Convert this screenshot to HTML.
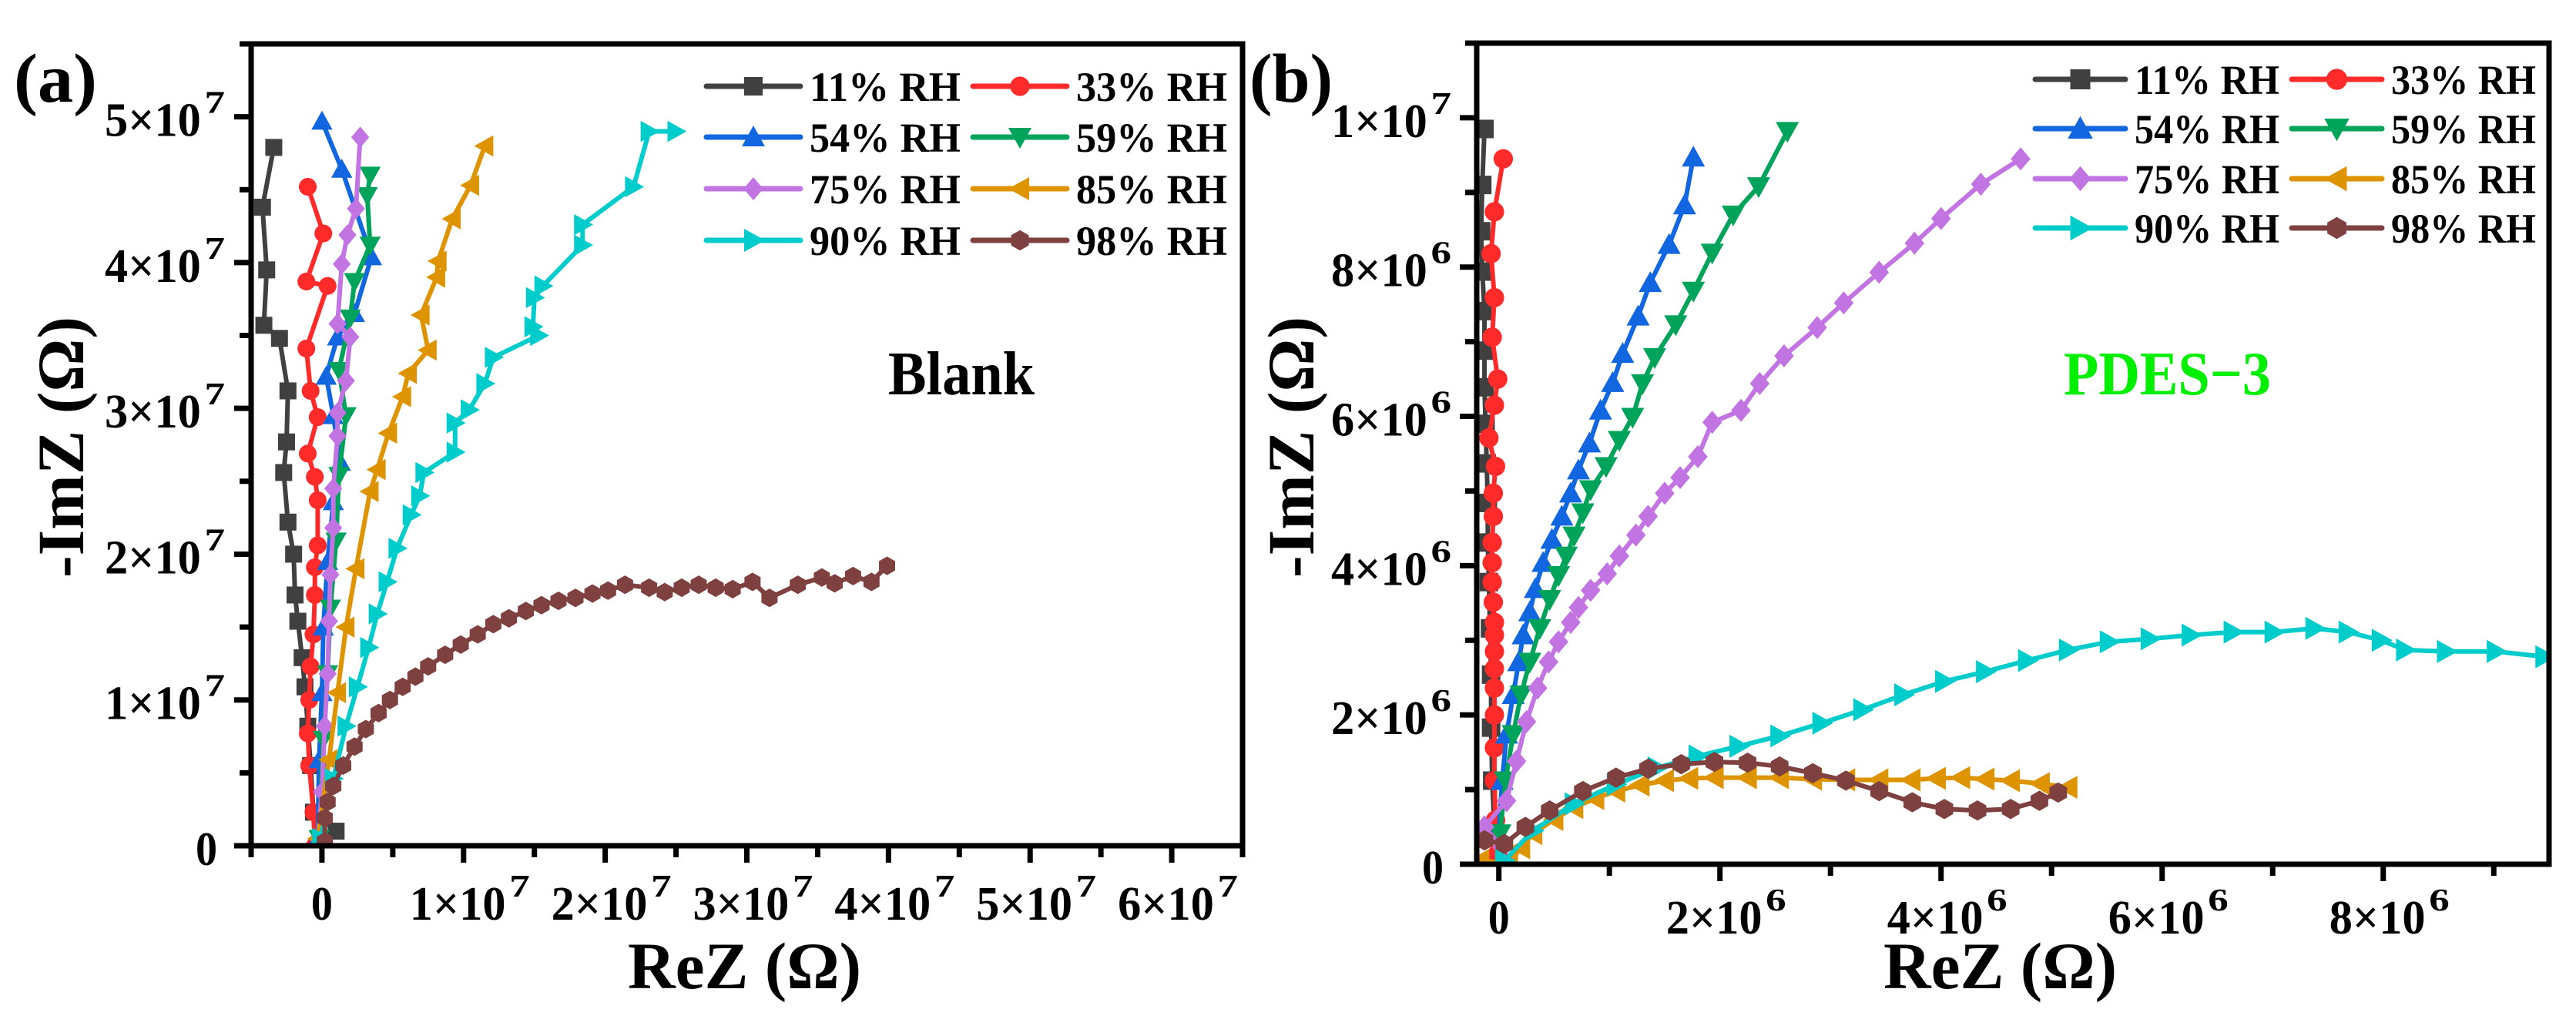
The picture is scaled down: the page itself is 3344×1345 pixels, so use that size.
<!DOCTYPE html>
<html><head><meta charset="utf-8"><style>
html,body{margin:0;padding:0;background:#fff}
svg{display:block}
</style></head><body>
<svg id="fig" width="3344" height="1345" viewBox="0 0 3344 1345" xmlns="http://www.w3.org/2000/svg" font-family="Liberation Serif, Times New Roman, serif" font-weight="bold"></svg>
<script>
// ---------- Panel (a) data, units of 1e7 Ohm ----------
const a_rh11 = [[-0.34,4.79],[-0.42,4.38],[-0.39,3.95],[-0.41,3.57],[-0.30,3.48],[-0.24,3.12],[-0.25,2.77],[-0.27,2.56],[-0.24,2.22],[-0.20,2.0],[-0.19,1.72],[-0.17,1.54],[-0.14,1.29],[-0.12,1.09],[-0.10,0.82],[-0.08,0.55],[-0.06,0.23],[0.10,0.10]];
const a_rh33 = [[-0.10,4.52],[0.01,4.20],[-0.11,3.87],[0.04,3.84],[-0.11,3.41],[-0.08,3.12],[-0.03,2.94],[-0.10,2.69],[-0.05,2.53],[-0.03,2.37],[-0.03,2.06],[-0.05,1.91],[-0.05,1.72],[-0.06,1.45],[-0.08,1.23],[-0.09,1.0],[-0.10,0.77],[-0.09,0.55],[-0.06,0.23],[-0.05,0]];
const a_rh54 = [[0,4.97],[0.14,4.64],[0.35,4.04],[0.23,3.65],[0.11,3.49],[0.03,3.22],[0.08,2.95],[0.13,2.63],[0.08,2.36],[0.04,1.95],[0.01,1.50],[0,1.05],[-0.02,0.59],[-0.03,0.05]];
const a_rh59 = [[0.34,4.60],[0.32,4.46],[0.34,4.12],[0.23,3.87],[0.20,3.62],[0.12,3.26],[0.17,2.95],[0.12,2.54],[0.10,2.09],[0.06,1.63],[0.04,1.18],[0.01,0.73],[-0.02,0.05]];
const a_rh75 = [[0.27,4.86],[0.24,4.37],[0.18,4.19],[0.14,3.99],[0.11,3.58],[0.20,3.49],[0.17,3.19],[0.11,2.97],[0.11,2.81],[0.08,2.45],[0.08,2.18],[0.06,1.86],[0.05,1.54],[0.04,1.18],[0.02,0.82],[0,0.37],[-0.03,0.05]];
const a_rh85 = [[1.15,4.80],[1.05,4.53],[0.92,4.30],[0.82,4.01],[0.81,3.90],[0.70,3.64],[0.75,3.40],[0.61,3.24],[0.57,3.08],[0.47,2.83],[0.39,2.58],[0.34,2.43],[0.24,1.90],[0.17,1.50],[0.11,1.05],[0.05,0.59],[-0.03,0.05]];
const a_rh90 = [[2.50,4.90],[2.31,4.90],[2.20,4.52],[1.84,4.26],[1.84,4.12],[1.56,3.84],[1.50,3.76],[1.49,3.56],[1.53,3.50],[1.21,3.35],[1.15,3.17],[1.04,2.99],[0.94,2.90],[0.94,2.70],[0.72,2.56],[0.69,2.40],[0.63,2.27],[0.53,2.04],[0.46,1.81],[0.39,1.59],[0.33,1.36],[0.25,1.09],[0.17,0.82],[0.08,0.46],[-0.01,0.05]];
const a_rh98 = [[3.99,1.92],[3.88,1.81],[3.75,1.85],[3.62,1.80],[3.53,1.84],[3.36,1.79],[3.16,1.70],[3.04,1.81],[2.90,1.76],[2.78,1.77],[2.66,1.79],[2.54,1.77],[2.42,1.74],[2.31,1.77],[2.14,1.79],[2.02,1.75],[1.91,1.73],[1.79,1.70],[1.67,1.68],[1.55,1.65],[1.44,1.61],[1.32,1.56],[1.21,1.52],[1.10,1.45],[0.98,1.38],[0.87,1.31],[0.75,1.23],[0.66,1.16],[0.57,1.09],[0.48,1.00],[0.40,0.91],[0.31,0.80],[0.23,0.68],[0.15,0.55],[0.08,0.41],[0.04,0.30],[0.02,0.19],[0.02,0.03]];
// ---------- Panel (b) data, units of 1e6 Ohm ----------
const b_rh11 = [[-0.13,9.85],[-0.15,9.10],[-0.16,8.48],[-0.15,7.94],[-0.13,7.41],[-0.13,6.88],[-0.13,6.39],[-0.12,5.90],[-0.11,5.37],[-0.10,4.84],[-0.10,4.31],[-0.09,3.78],[-0.08,3.16],[-0.07,2.54],[-0.07,1.83],[-0.06,1.12],[-0.04,0.5]];
const b_rh33 = [[0.04,9.45],[-0.04,8.74],[-0.07,8.18],[-0.04,7.59],[-0.06,7.06],[-0.01,6.50],[-0.04,6.15],[-0.09,5.71],[-0.03,5.33],[-0.05,4.97],[-0.05,4.66],[-0.06,4.31],[-0.06,4.04],[-0.06,3.78],[-0.05,3.51],[-0.04,3.24],[-0.04,3.07],[-0.04,2.85],[-0.04,2.62],[-0.04,2.36],[-0.04,2.0],[-0.04,1.56],[-0.04,1.12],[-0.03,0.59],[-0.01,0.14]];
const b_rh54 = [[1.76,9.47],[1.68,8.83],[1.54,8.30],[1.37,7.79],[1.26,7.34],[1.12,6.84],[1.03,6.45],[0.92,6.08],[0.82,5.64],[0.72,5.28],[0.65,4.97],[0.57,4.66],[0.48,4.35],[0.40,4.04],[0.33,3.69],[0.28,3.38],[0.22,3.07],[0.18,2.71],[0.13,2.27],[0.07,1.74],[0.03,1.12],[0,0.41]];
const b_rh59 = [[2.61,9.82],[2.35,9.08],[2.12,8.70],[1.93,8.19],[1.76,7.68],[1.60,7.23],[1.41,6.79],[1.30,6.44],[1.21,5.99],[1.09,5.68],[0.97,5.33],[0.83,5.02],[0.76,4.71],[0.68,4.40],[0.61,4.13],[0.54,3.87],[0.46,3.55],[0.37,3.16],[0.28,2.71],[0.20,2.27],[0.13,1.74],[0.06,1.12],[0.01,0.41]];
const b_rh75 = [[4.72,9.45],[4.36,9.11],[4.00,8.65],[3.76,8.32],[3.44,7.93],[3.12,7.52],[2.88,7.19],[2.58,6.81],[2.36,6.44],[2.19,6.08],[1.93,5.92],[1.80,5.46],[1.64,5.18],[1.50,4.97],[1.35,4.66],[1.24,4.41],[1.09,4.13],[0.98,3.89],[0.83,3.67],[0.72,3.44],[0.65,3.24],[0.54,2.98],[0.45,2.71],[0.35,2.36],[0.25,1.91],[0.16,1.38],[0.07,0.85],[-0.13,0.5],[0.03,0.23]];
const b_rh85 = [[-0.17,0.05],[0.09,0.01],[0.20,0.22],[0.31,0.41],[0.50,0.60],[0.68,0.76],[0.87,0.88],[1.06,0.98],[1.28,1.06],[1.50,1.12],[1.72,1.15],[1.95,1.16],[2.25,1.16],[2.54,1.16],[2.84,1.14],[3.14,1.13],[3.44,1.13],[3.73,1.13],[3.96,1.15],[4.18,1.16],[4.40,1.14],[4.63,1.12],[4.90,1.08],[5.15,1.03]];
const b_rh90 = [[9.46,2.78],[9.02,2.85],[8.57,2.85],[8.20,2.87],[7.98,3.0],[7.68,3.11],[7.38,3.16],[7.01,3.11],[6.64,3.11],[6.26,3.07],[5.89,3.02],[5.52,2.98],[5.15,2.87],[4.78,2.73],[4.40,2.58],[4.03,2.45],[3.66,2.27],[3.29,2.07],[2.92,1.89],[2.54,1.72],[2.17,1.58],[1.80,1.45],[1.43,1.29],[1.06,1.07],[0.68,0.81],[0.31,0.45],[0.05,0.05]];
const b_rh98 = [[5.06,0.96],[4.89,0.85],[4.63,0.74],[4.33,0.72],[4.03,0.74],[3.74,0.83],[3.44,0.98],[3.14,1.12],[2.84,1.22],[2.54,1.31],[2.25,1.36],[1.95,1.37],[1.65,1.34],[1.35,1.28],[1.06,1.16],[0.76,0.98],[0.46,0.72],[0.24,0.50],[0.05,0.27],[-0.13,0.32]];
// ---------- labels ----------
const seriesLabels = ["11% RH","33% RH","54% RH","59% RH","75% RH","85% RH","90% RH","98% RH"];
const aXTicks = [0,1,2,3,4,5,6];
const aYTicks = [0,1,2,3,4,5];
const bXTicks = [0,2,4,6,8];
const bYTicks = [0,2,4,6,8,10];

const colors = ["#404040","#ff2a2a","#1266e0","#00a35a","#c274e2","#dd9400","#00cccc","#7f4040"];
const markers = ["square","circle","up","down","diamond","left","right","hex"];
const FONT = "Liberation Serif, Times New Roman, serif";
const NS = "http://www.w3.org/2000/svg";
const svg = document.getElementById("fig");
function el(tag, attrs, parent){const e=document.createElementNS(NS,tag);for(const k in attrs)e.setAttribute(k,attrs[k]);(parent||svg).appendChild(e);return e;}
function txt(attrs,parent,color,len){
  attrs["font-family"]=FONT;attrs["font-weight"]="bold";
  if(len){attrs["textLength"]=len;attrs["lengthAdjust"]="spacingAndGlyphs";}
  const t=el("text",attrs,parent);
  t.style.fill=color||"#000";
  return t;
}

function markerShape(type,x,y,s,color,parent){
  let e;
  if(type==="square") e=el("rect",{x:x-s,y:y-s,width:2*s,height:2*s,fill:color},parent);
  else if(type==="circle") e=el("circle",{cx:x,cy:y,r:s*1.05,fill:color},parent);
  else {
    let pts;
    const t=s*1.25;
    if(type==="up") pts=[[x,y-t],[x+t,y+t*0.8],[x-t,y+t*0.8]];
    else if(type==="down") pts=[[x,y+t],[x+t,y-t*0.8],[x-t,y-t*0.8]];
    else if(type==="left") pts=[[x-t,y],[x+t*0.8,y-t],[x+t*0.8,y+t]];
    else if(type==="right") pts=[[x+t,y],[x-t*0.8,y-t],[x-t*0.8,y+t]];
    else if(type==="diamond") pts=[[x,y-t],[x+t*0.85,y],[x,y+t],[x-t*0.85,y]];
    else {pts=[];for(let i=0;i<6;i++){const a=Math.PI/3*i+Math.PI/6;pts.push([x+s*1.1*Math.cos(a),y+s*1.1*Math.sin(a)]);}}
    e=el("polygon",{points:pts.map(p=>p.join(",")).join(" "),fill:color},parent);
  }
  return e;
}

function sciLabel(parent,x,y,mant,exp,anchor,size,len){
  if(exp===null){const t=txt({x:x,y:y,"text-anchor":anchor,"font-size":size},parent,"#000",28);t.textContent=mant;return t;}
  // main part and exponent as separate text pieces, each width-controlled
  const g=el("g",{},parent);
  const mainW=len*0.8, expW=len*0.17;
  let left = anchor==="end" ? x-len : anchor==="middle" ? x-len/2 : x;
  const a=txt({x:left,y:y,"font-size":size},g,"#000",mainW);a.textContent=mant+"\u00d710";
  const b=txt({x:left+len-expW,y:y-30,"font-size":size*0.66},g,"#000",expW);b.textContent=exp;
  return g;
}

function panel(cfg){
  const g=el("g",{});
  
  
  const sx=v=>cfg.L+(v-cfg.xmin)/(cfg.xmax-cfg.xmin)*(cfg.R-cfg.L);
  const sy=v=>cfg.B-(v-cfg.ymin)/(cfg.ymax-cfg.ymin)*(cfg.B-cfg.T);
  const cid=cfg.name+"-clip";
  const defs=el("defs",{},g);const cp=el("clipPath",{id:cid},defs);
  el("rect",{x:cfg.L,y:cfg.T,width:cfg.R-cfg.L,height:cfg.B-cfg.T},cp);
  const sg=el("g",{"clip-path":"url(#"+cid+")"},g);
  cfg.series.forEach((data,i)=>{
    const s=el("g",{},sg);
    
    
    const pl=el("polyline",{points:data.map(p=>sx(p[0])+","+sy(p[1])).join(" "),fill:"none",stroke:colors[i],"stroke-width":6,"stroke-linejoin":"round"},s);
    
    
    data.forEach(p=>{
      const m=markerShape(markers[i],sx(p[0]),sy(p[1]),cfg.ms,colors[i],s);
      
      
    });
  });
  const fr=el("rect",{x:cfg.L,y:cfg.T,width:cfg.R-cfg.L,height:cfg.B-cfg.T,fill:"none",stroke:"#000","stroke-width":7},g);
  
  
  for(let v=cfg.xminor0; v<=cfg.xmax+1e-9; v+=cfg.xminor){
    const major=cfg.xTicks.some(t=>Math.abs(t-v)<1e-6);
    const tk=el("line",{x1:sx(v),x2:sx(v),y1:cfg.B,y2:cfg.B+(major?22:15),stroke:"#000","stroke-width":7},g);
    
    
  }
  for(let v=cfg.yminor0; v<=cfg.ymax+1e-9; v+=cfg.yminor){
    const major=cfg.yTicks.some(t=>Math.abs(t-v)<1e-6);
    const tk=el("line",{x1:cfg.L,x2:cfg.L-(major?22:15),y1:sy(v),y2:sy(v),stroke:"#000","stroke-width":7},g);
    
    
  }
  cfg.xTicks.forEach(v=>{
    const lab = v===0 ? sciLabel(g,sx(v),cfg.xLabY,"0",null,"middle",62) : sciLabel(g,sx(v)+8,cfg.xLabY,cfg.xfmt(v)[0],cfg.xfmt(v)[1],"middle",62,156);
    
    
  });
  cfg.yTicks.forEach(v=>{
    const f=cfg.yfmt(v);
    const lab = v===0 ? sciLabel(g,cfg.yLabX-10,sy(v)+25,"0",null,"end",62) : sciLabel(g,cfg.yLabX,sy(v)+25,f[0],f[1],"end",62,156);
    
    
  });
  const xt=txt({x:cfg.xTitleX-152,y:1283,"font-size":86},g,"#000",303);
  xt.textContent="ReZ (\u03a9)";
  
  
  const yt=txt({x:-170,y:0,"font-size":86,transform:"translate("+cfg.yTitleX+",580) rotate(-90)"},g,"#000",339);
  yt.textContent="-ImZ (\u03a9)";
  
  
  const pl=txt({x:cfg.letterX,y:132,"font-size":90},g,"#000",108);
  pl.textContent=cfg.letter;
  
  
  const an=txt({x:cfg.annX,y:512,"font-size":80},g,cfg.annColor,cfg.annW);
  an.textContent=cfg.ann;
  
  
  const lg=el("g",{},g);
  
  
  seriesLabels.forEach((lab,i)=>{
    const col=i%2,row=Math.floor(i/2);
    const y=cfg.legY[row];
    const x0=cfg.legLineX[col];
    const e=el("g",{},lg);
    
    
    el("line",{x1:x0,x2:x0+cfg.legLen,y1:y,y2:y,stroke:colors[i],"stroke-width":7,"stroke-linecap":"round"},e);
    markerShape(markers[i],x0+cfg.legLen/2,y,cfg.ms+1,colors[i],e);
    const t=txt({x:x0+cfg.legLen+12,y:y+19,"font-size":54},e,"#000",cfg.legTextW);
    t.textContent=lab;
  });
}

const fmtA=v=>[String(v),"7"];
const fmtBx=v=>[String(v),"6"];
const fmtBy=v=>v===10?["1","7"]:[String(v),"6"];

panel({name:"panel-a-blank",L:326,R:1613,T:57,B:1098,xmin:-0.5,xmax:6.5,ymin:0,ymax:5.5,
  xTicks:aXTicks,yTicks:aYTicks,xminor:0.5,xminor0:-0.5,yminor:0.5,yminor0:0,
  xfmt:fmtA,yfmt:fmtA,xLabY:1194,yLabX:292,xTitleX:967,yTitleX:108,letter:"(a)",letterX:18,
  ann:"Blank",annW:190,annX:1153,annColor:"#000",legY:[112,178,245,312],legLineX:[917,1263],legLen:122,legTextW:196,ms:11,
  series:[a_rh11,a_rh33,a_rh54,a_rh59,a_rh75,a_rh85,a_rh90,a_rh98]});
panel({name:"panel-b-pdes3",L:1917,R:3309,T:56,B:1122,xmin:-0.2,xmax:9.5,ymin:0,ymax:11,
  xTicks:bXTicks,yTicks:bYTicks,xminor:1,xminor0:0,yminor:1,yminor0:0,
  xfmt:fmtBx,yfmt:fmtBy,xLabY:1212,yLabX:1884,xTitleX:2597,yTitleX:1705,letter:"(b)",letterX:1622,
  ann:"PDES\u22123",annW:269,annX:2679,annColor:"#00ee00",legY:[103,167,232,296],legLineX:[2642,2975],legLen:117,legTextW:188,ms:12,
  series:[b_rh11,b_rh33,b_rh54,b_rh59,b_rh75,b_rh85,b_rh90,b_rh98]});
</script>
</body></html>
